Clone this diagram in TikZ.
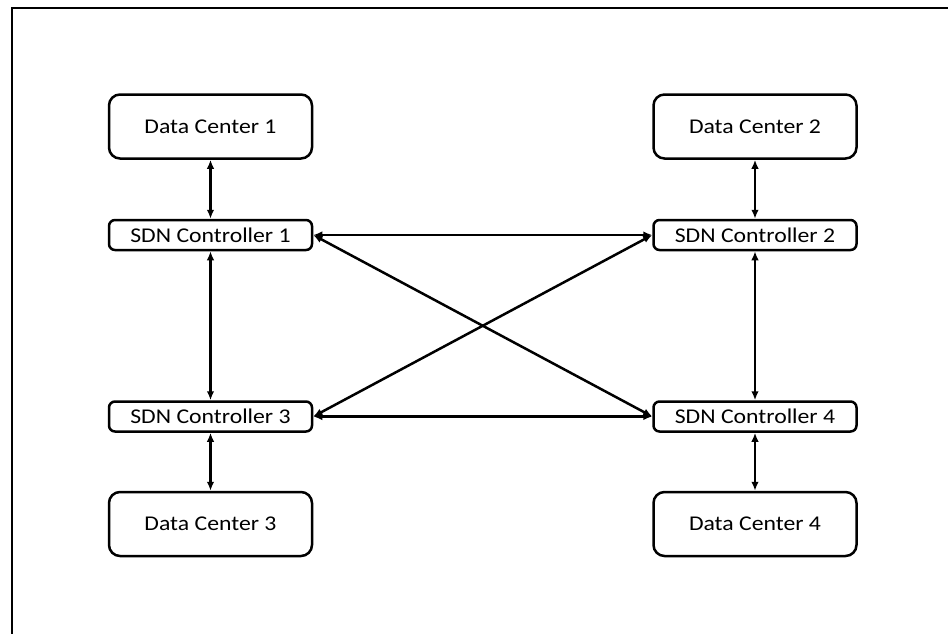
\documentclass[tikz,border=0pt]{standalone}
\usepackage{fontspec}
\setmainfont[FakeStretch=1.13]{Carlito}
\usetikzlibrary{arrows.meta}
\begin{document}
\begin{tikzpicture}[x=1pt,y=-1pt,
  box/.style={draw, line width=2.5pt, minimum width=203pt, inner sep=0pt, font=\fontsize{21}{25}\selectfont},
  dcbox/.style={box, rounded corners=11pt, minimum height=64pt},
  sdnbox/.style={box, rounded corners=6pt, minimum height=30pt},
  link/.style={line width=2.5pt, {Latex[length=9pt,width=7.5pt]}-{Latex[length=9pt,width=7.5pt]}}]
\useasboundingbox (0,0) rectangle (948,633);
\draw[line width=2.5pt] (12,8) rectangle (980,680);
\node[dcbox] (dc1) at (210.5,126.5) {Data Center 1};
\node[dcbox] (dc2) at (755,126.5) {Data Center 2};
\node[dcbox] (dc3) at (210.5,524) {Data Center 3};
\node[dcbox] (dc4) at (755,524) {Data Center 4};
\node[sdnbox] (s1) at (210.5,235) {SDN Controller 1};
\node[sdnbox] (s2) at (755,235) {SDN Controller 2};
\node[sdnbox] (s3) at (210.5,416.5) {SDN Controller 3};
\node[sdnbox] (s4) at (755,416.5) {SDN Controller 4};
\draw[link] (dc1) -- (s1);
\draw[link] (dc2) -- (s2);
\draw[link] (s3) -- (dc3);
\draw[link] (s4) -- (dc4);
\draw[link] (s1) -- (s3);
\draw[link] (s2) -- (s4);
\draw[link] (s1.east) -- (s2.west);
\draw[link] (s3.east) -- (s4.west);
\draw[link] (s1.east) -- (s4.west);
\draw[link] (s3.east) -- (s2.west);
\end{tikzpicture}
\end{document}
